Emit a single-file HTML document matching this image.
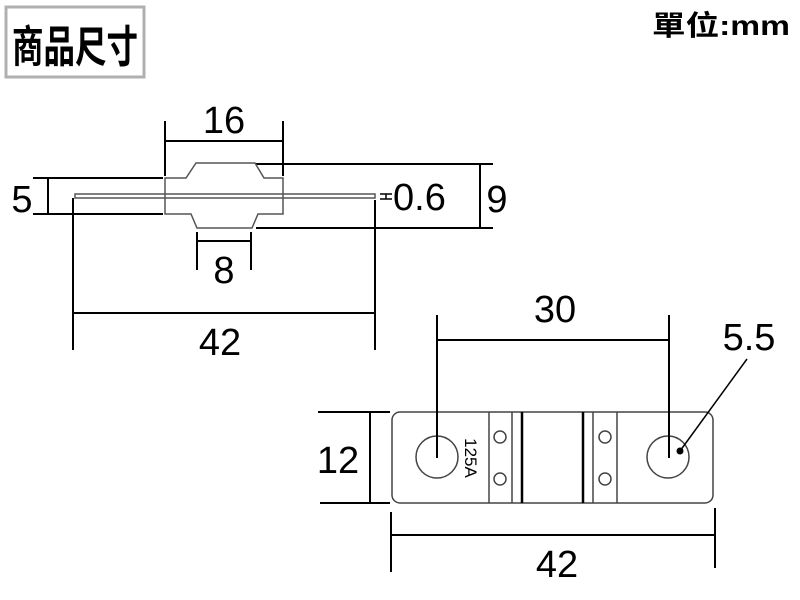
<!DOCTYPE html>
<html><head><meta charset="utf-8"><style>
html,body{margin:0;padding:0;background:#fff;width:800px;height:600px;overflow:hidden}
svg{display:block}
text{font-family:"Liberation Sans","DejaVu Sans",sans-serif;fill:#000}
.cjk{font-family:"Liberation Sans","Noto Sans CJK TC",sans-serif}
</style></head><body>
<svg width="800" height="600" viewBox="0 0 800 600" xmlns="http://www.w3.org/2000/svg">
<rect x="6" y="7" width="138" height="70" fill="none" stroke="#b0b0b0" stroke-width="3"/>
<text x="12" y="62" class="cjk" font-size="44" font-weight="bold" textLength="126" lengthAdjust="spacingAndGlyphs">商品尺寸</text>
<text x="652" y="35" class="cjk" font-size="28" font-weight="bold" textLength="138" lengthAdjust="spacingAndGlyphs">單位:mm</text>

<g stroke="#000" stroke-width="2" fill="none">
<line x1="165" y1="121" x2="165" y2="176"/><line x1="283" y1="121" x2="283" y2="176"/>
<line x1="165" y1="141" x2="283" y2="141"/>
<line x1="33" y1="178" x2="163" y2="178"/><line x1="33" y1="214" x2="163" y2="214"/>
<line x1="48" y1="178" x2="48" y2="214"/>
<line x1="256" y1="164" x2="493" y2="164"/><line x1="256" y1="228" x2="493" y2="228"/>
<line x1="480" y1="164" x2="480" y2="228"/>
<line x1="197" y1="232" x2="197" y2="270"/><line x1="251" y1="232" x2="251" y2="270"/>
<line x1="197" y1="241" x2="251" y2="241"/>
<line x1="73" y1="198" x2="73" y2="350"/><line x1="375" y1="200" x2="375" y2="350"/>
<line x1="73" y1="313" x2="375" y2="313"/>
<path d="M380 194 H392 M380 199 H392 M386 194 V199" stroke-width="1.5"/>
</g>
<g stroke="#555" stroke-width="1.5" fill="none">
<path d="M165 178 H186 L196 163 H255 L264 178 H283 V214 H258 L252 228 H197 L191 214 H165 Z"/>
<rect x="75" y="194" width="300" height="4"/>
</g>
<text x="224" y="133" font-size="38" text-anchor="middle">16</text>
<text x="22" y="212" font-size="38" text-anchor="middle">5</text>
<text x="497" y="212" font-size="38" text-anchor="middle">9</text>
<text x="393" y="210" font-size="38">0.6</text>
<text x="224" y="283" font-size="38" text-anchor="middle">8</text>
<text x="220" y="355" font-size="38" text-anchor="middle">42</text>

<g stroke="#444" stroke-width="1.5" fill="none">
<rect x="392" y="412" width="321" height="91" rx="8"/>
<circle cx="437" cy="457" r="21"/><circle cx="668" cy="457" r="21"/>
<line x1="489" y1="412" x2="489" y2="503"/><line x1="512" y1="412" x2="512" y2="503"/>
<line x1="593" y1="412" x2="593" y2="503"/><line x1="617" y1="412" x2="617" y2="503"/>
<circle cx="500" cy="437" r="6"/><circle cx="500" cy="479" r="6"/>
<circle cx="605" cy="437" r="6"/><circle cx="605" cy="479" r="6"/>
</g>
<g stroke="#000" stroke-width="2.5" fill="none">
<line x1="522" y1="412" x2="522" y2="503"/><line x1="583" y1="412" x2="583" y2="503"/>
</g>
<g stroke="#000" stroke-width="2" fill="none">
<line x1="437" y1="315" x2="437" y2="458"/><line x1="669" y1="315" x2="669" y2="458"/>
<line x1="437" y1="340" x2="669" y2="340"/>
<line x1="318" y1="412" x2="390" y2="412"/><line x1="320" y1="503" x2="390" y2="503"/>
<line x1="370" y1="412" x2="370" y2="503"/>
<line x1="391" y1="512" x2="391" y2="572"/><line x1="715" y1="508" x2="715" y2="568"/>
<line x1="391" y1="535" x2="715" y2="535"/>
<line x1="747" y1="359" x2="680" y2="451" stroke-width="1.5"/>
</g>
<circle cx="680" cy="451" r="3.5" fill="#000"/>
<text x="471" y="458" font-size="17" text-anchor="middle" transform="rotate(90 471 458)" dy="6">125A</text>
<text x="555" y="322" font-size="38" text-anchor="middle">30</text>
<text x="749" y="350" font-size="38" text-anchor="middle">5.5</text>
<text x="338" y="473" font-size="38" text-anchor="middle">12</text>
<text x="557" y="577" font-size="38" text-anchor="middle">42</text>
</svg>
</body></html>
